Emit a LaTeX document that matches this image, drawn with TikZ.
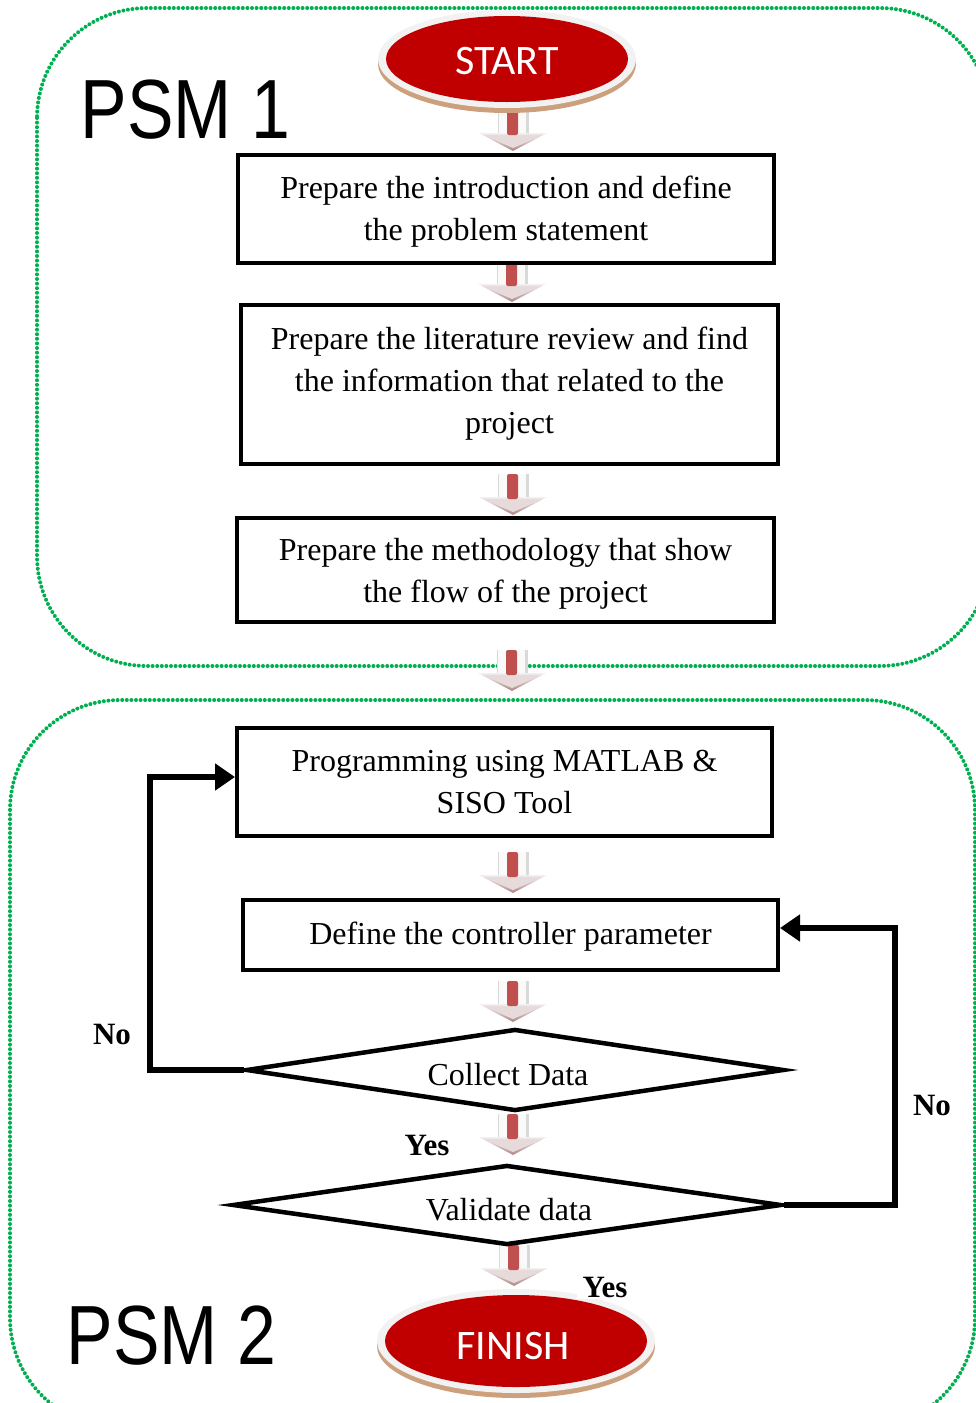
\documentclass[tikz,border=0pt]{standalone}
\usepackage{fontspec}
\setmainfont{Liberation Serif}
\newfontfamily\calfont{Carlito}
\newfontfamily\psmfont{Liberation Sans}
\usetikzlibrary{shapes.geometric,arrows.meta}
\definecolor{psmgreen}{RGB}{0,176,80}
\definecolor{termred}{RGB}{192,0,0}
\definecolor{termrim}{RGB}{242,242,242}
\definecolor{termshadow}{RGB}{205,160,125}
\definecolor{barred}{RGB}{192,80,77}
\definecolor{headrose}{RGB}{176,132,132}
\tikzset{
  region/.style={draw=psmgreen,line width=4pt,line cap=round,dash pattern=on 0pt off 4.6pt,rounded corners=110pt},
  stepbox/.style={draw,line width=4pt,rectangle,inner sep=0pt},
  decision/.style={draw,line width=4.5pt,diamond,inner sep=0pt,aspect=6},
  steptext/.style={align=center,inner sep=0pt,font=\fontsize{32}{42}\selectfont},
  termtext/.style={text=white,font=\calfont\fontsize{42}{48}\selectfont},
  psmlabel/.style={font=\psmfont\fontsize{84}{90}\selectfont,xscale=0.83,anchor=west},
  answer/.style={font=\bfseries\fontsize{31}{36}\selectfont,inner sep=2pt},
  loopline/.style={line width=6pt,-{Triangle[length=20pt,width=26pt]}},
  fatarrow/.pic={
    \fill[gray!30] (-15,0) rectangle (16,24);
    \fill[white!96!gray] (-14,0) rectangle (13,23);
    \shade[top color=gray!12,bottom color=headrose]
      (-34,23) -- (34,23) -- (0,41) -- cycle;
    \fill[white!70!headrose] (-30,25) -- (30,25) -- (0,38) -- cycle;
    \fill[barred,rounded corners=2pt] (-6,0) -- (5,0) -- (5,25) -- (-6,25) -- cycle;
  }
}
\newcommand{\terminal}[5]{% name, x, y, rx, ry
  \fill[termshadow] (#2,#3+5) ellipse ({#4+8} and {#5+6});
  \fill[termrim] (#2,#3) ellipse ({#4+8} and {#5+6});
  \fill[termred] (#2,#3) ellipse ({#4} and {#5});
}
\begin{document}
\begin{tikzpicture}[x=1pt,y=-1pt]
  \useasboundingbox (0,0) rectangle (976,1403);
  \clip (0,0) rectangle (976,1403);

  % the two project stages
  \draw[region] (37,8) rectangle (990,666);
  \draw[region] (10,700) rectangle (975,1428);
  \node[psmlabel] (psm1) at (78,110) {PSM 1};
  \node[psmlabel] (psm2) at (64,1336) {PSM 2};

  % block arrows between the steps
  \pic at (513,110) {fatarrow};
  \pic at (512,261) {fatarrow};
  \pic at (513,474) {fatarrow};
  \pic at (512,650) {fatarrow};
  \pic at (513,852) {fatarrow};
  \pic at (513,981) {fatarrow};
  \pic at (513,1114) {fatarrow};
  \pic at (514,1245) {fatarrow};

  % start and finish terminals
  \terminal{start}{507}{59}{121}{43}
  \node[termtext] (start) at (507,61) {START};
  \terminal{finish}{516}{1341}{131}{46}
  \node[termtext] (finish) at (513,1346) {FINISH};

  % PSM 1 steps
  \node[stepbox,minimum width=536pt,minimum height=108pt] (intro) at (506,209) {};
  \node[steptext] (intro-t) at ([yshift=-3pt]intro.center)
    {Prepare the introduction and define\\the problem statement};
  \node[stepbox,minimum width=537pt,minimum height=159pt] (lit) at (509.5,384.5) {};
  \node[steptext] (lit-t) at ([yshift=1pt]lit.center)
    {Prepare the literature review and find\\the information that related to the\\project};
  \node[stepbox,minimum width=537pt,minimum height=104pt] (meth) at (505.5,570) {};
  \node[steptext] (meth-t) at ([yshift=-4pt]meth.center)
    {Prepare the methodology that show\\the flow of the project};

  % PSM 2 steps
  \node[stepbox,minimum width=535pt,minimum height=108pt] (prog) at (504.5,782) {};
  \node[steptext] (prog-t) at ([yshift=0pt]prog.center)
    {Programming using MATLAB \&\\SISO Tool};
  \node[stepbox,minimum width=535pt,minimum height=70pt] (param) at (510.5,935) {};
  \node[steptext] (param-t) at ([yshift=-2pt]param.center)
    {Define the controller parameter};
  \node[decision,minimum width=538pt,minimum height=82pt] (collect) at (515,1070) {};
  \node[steptext] (collect-t) at ([yshift=-5pt,xshift=-7pt]collect.center) {Collect Data};
  \node[decision,minimum width=549pt,minimum height=80pt] (valid) at (507,1205) {};
  \node[steptext] (valid-t) at ([yshift=-5pt,xshift=2pt]valid.center) {Validate data};

  % feedback loops
  \coordinate (lbot) at (150,1070);
  \coordinate (ltop) at (150,777);
  \draw[loopline] (collect.west) -- (lbot) -- (ltop) -- (prog.west |- ltop);
  \coordinate (rbot) at (895,1205);
  \coordinate (rtop) at (895,928);
  \draw[loopline] (valid.east) -- (rbot) -- (rtop) -- (param.east |- rtop);

  % decision answers
  \node[answer] (no1) at (112,1034) {No};
  \node[answer] (yes1) at (427,1145) {Yes};
  \node[answer] (no2) at (932,1105) {No};
  \node[answer,fill=white,inner xsep=6pt] (yes2) at (605,1287) {Yes};
\end{tikzpicture}
\end{document}
